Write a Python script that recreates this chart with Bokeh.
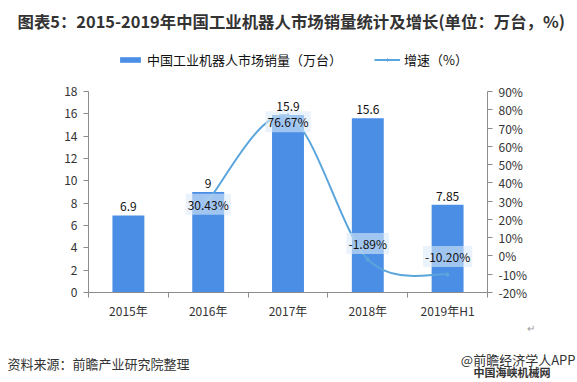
from bokeh.plotting import figure
from bokeh.models import (Range1d, LinearAxis, FixedTicker, PrintfTickFormatter,
                          Label, Legend, LegendItem, ColumnDataSource, Title)
from bokeh.core.properties import value
from bokeh.embed import file_html
from bokeh.resources import INLINE

# ---------------- data ----------------
categories = ["2015年", "2016年", "2017年", "2018年", "2019年H1"]
sales = [6.9, 9, 15.9, 15.6, 7.85]                 # 万台
sales_labels = ["6.9", "9", "15.9", "15.6", "7.85"]
growth_idx = [1, 2, 3, 4]
growth = [30.43, 76.67, -1.89, -10.20]             # %
growth_labels = ["30.43%", "76.67%", "-1.89%", "-10.20%"]
left_ticks = [0, 2, 4, 6, 8, 10, 12, 14, 16, 18]
right_ticks = [-20, -10, 0, 10, 20, 30, 40, 50, 60, 70, 80, 90]
left_bounds = (0, 18)
right_bounds = (-20, 90)

FONT = "Noto Sans CJK SC"
BAR = "#4A8EE6"
LINE = "#5AA5DC"
TXT = "#333333"
W, H = 576, 381
FL, FR, FB = 88, 487, 292       # frame left / right / bottom (canvas px)
AX_TOP = 91                     # where the axes' top ticks sit
FT = 40                         # frame top (title row above it)

# extend the frame upward so the legend can live inside it; axes keep their bounds
k = (FB - FT) / (FB - AX_TOP)
ly_end = left_bounds[0] + (left_bounds[1] - left_bounds[0]) * k
ry_end = right_bounds[0] + (right_bounds[1] - right_bounds[0]) * k

p = figure(width=W, height=H, output_backend="svg", toolbar_location=None,
           x_range=Range1d(-0.5, 4.5), y_range=Range1d(left_bounds[0], ly_end),
           min_border_left=FL, min_border_right=W - FR, min_border_top=FT,
           min_border_bottom=H - FB)
p.outline_line_color = None
p.xgrid.visible = False
p.ygrid.visible = False
p.extra_y_ranges = {"pct": Range1d(right_bounds[0], ry_end)}

# x axis
xa = p.xaxis[0]
xa.ticker = FixedTicker(ticks=list(range(len(categories))),
                        minor_ticks=[i - 0.5 for i in range(len(categories) + 1)])
xa.major_label_overrides = {i: c for i, c in enumerate(categories)}
xa.major_tick_out = 0
xa.major_tick_in = 0
xa.minor_tick_out = 5
xa.minor_tick_in = 0
xa.major_label_standoff = 4

# left axis
ya = p.yaxis[0]
ya.ticker = FixedTicker(ticks=left_ticks)
ya.bounds = left_bounds
ya.major_tick_out = 5
ya.major_tick_in = 0
ya.minor_tick_out = 0
ya.minor_tick_in = 0
ya.major_label_standoff = 6

ra = LinearAxis(y_range_name="pct", ticker=FixedTicker(ticks=right_ticks),
                formatter=PrintfTickFormatter(format="%d%%"), bounds=right_bounds)
ra.major_tick_out = 5
ra.major_tick_in = 0
ra.minor_tick_out = 0
ra.minor_tick_in = 0
ra.major_label_standoff = 6
p.add_layout(ra, "right")

for ax in [xa, ya, ra]:
    ax.axis_line_color = "#8C8C8C"
    ax.major_tick_line_color = "#8C8C8C"
    ax.minor_tick_line_color = "#8C8C8C"
    ax.major_label_text_font = FONT
    ax.major_label_text_font_size = "12px"
    ax.major_label_text_color = TXT

# bars
src = ColumnDataSource(dict(x=list(range(len(categories))), top=sales, lab=sales_labels))
bars = p.vbar(x="x", top="top", width=0.4, source=src, fill_color=BAR, line_color=None)
p.text(x="x", y="top", text="lab", source=src, text_align="center",
       text_baseline="bottom", y_offset=-4, text_font=value(FONT),
       text_font_size="12px", text_color="#111111")

# smooth growth line (cardinal/Bezier through the data points)
n = len(growth)
x0s, y0s, x1s, y1s, c0x, c0y, c1x, c1y = [], [], [], [], [], [], [], []
for i in range(n - 1):
    xm, ym = growth_idx[max(i - 1, 0)], growth[max(i - 1, 0)]
    xa0, ya0 = growth_idx[i], growth[i]
    xb0, yb0 = growth_idx[i + 1], growth[i + 1]
    xp, yp = growth_idx[min(i + 2, n - 1)], growth[min(i + 2, n - 1)]
    x0s.append(xa0); y0s.append(ya0); x1s.append(xb0); y1s.append(yb0)
    c0x.append(xa0 + (xb0 - xm) / 6); c0y.append(ya0 + (yb0 - ym) / 6)
    c1x.append(xb0 - (xp - xa0) / 6); c1y.append(yb0 - (yp - ya0) / 6)
p.bezier(x0=x0s, y0=y0s, x1=x1s, y1=y1s, cx0=c0x, cy0=c0y, cx1=c1x, cy1=c1y,
         line_color=LINE, line_width=2, y_range_name="pct")
pts = p.scatter(x=growth_idx, y=growth, marker="diamond", size=5, fill_color=LINE,
                line_color=LINE, y_range_name="pct")
# legend-only line sample (a single NaN point draws nothing in the plot)
legend_line = p.line(x=[float("nan")], y=[float("nan")], line_color=LINE,
                     line_width=2, y_range_name="pct")

# growth labels with translucent boxes
label_offsets = [-4, -6, 16, 18]
for gi, gv, gl, off in zip(growth_idx, growth, growth_labels, label_offsets):
    p.add_layout(Label(x=gi, y=gv, y_range_name="pct", text=gl, text_align="center",
                       text_baseline="middle", y_offset=off, text_font=FONT,
                       text_font_size="12px", text_color="#111111",
                       background_fill_color="#DCE9F8", background_fill_alpha=0.6,
                       padding=2))

# legend (inside the extended frame, above the axes' top)
legend = Legend(items=[LegendItem(label="中国工业机器人市场销量（万台）", renderers=[bars]),
                       LegendItem(label="增速（%）", renderers=[legend_line, pts])],
                orientation="horizontal", location=(117 - FL, FB - 69),
                label_text_font=FONT, label_text_font_size="13px",
                label_text_color="#111111", border_line_color=None,
                background_fill_alpha=0, glyph_width=26, glyph_height=7,
                label_height=16, label_standoff=4, spacing=32, padding=0, margin=0)
p.add_layout(legend, "center")


def est_h(px):
    return round(px * 1.5)


def row_title(text, size, row_h, align, xpos, bold=False, color=TXT):
    if align == "left":
        off = xpos - FL
    else:
        off = FR - xpos
    return Title(text=text, text_font=FONT, text_font_size=f"{size}px",
                 text_font_style="bold" if bold else "normal", text_color=color,
                 align=align, offset=off, vertical_align="middle",
                 standoff=row_h - 2 - est_h(size))


p.title.visible = False
p.add_layout(row_title("图表5：2015-2019年中国工业机器人市场销量统计及增长(单位：万台，%)",
                       16.4, FT, "left", 17, bold=True), "above")

# bottom rows (from the axis outwards)
p.add_layout(row_title("↵", 10, 12, "right", 534, color="#9A9A9A"), "below")
p.add_layout(row_title(" ", 10, 24, "left", 100), "below")
p.add_layout(row_title("@前瞻经济学人APP", 13, 5, "right", 575), "below")
p.add_layout(row_title("资料来源：前瞻产业研究院整理", 13, 5, "left", 7), "below")
p.add_layout(row_title("中国海峡机械网", 11, 13, "right", 550, bold=True), "below")

open("out.html", "w").write(file_html(p, INLINE))
